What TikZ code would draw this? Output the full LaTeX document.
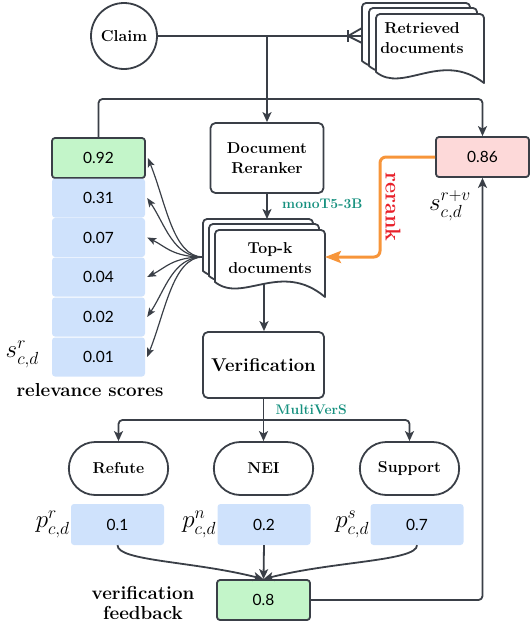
\RequirePackage{fix-cm}
\documentclass[tikz,border=0pt]{standalone}
\usepackage{amsmath}
\usepackage{fontspec}
\usepackage{tikz}
\usetikzlibrary{calc,arrows.meta,shapes.misc,positioning}
\newfontfamily\numfont{Lato}
\definecolor{ink}{HTML}{3A3F47}
\definecolor{scoreblue}{HTML}{CFE2FC}
\definecolor{topgreen}{HTML}{C3F5C9}
\definecolor{rrpink}{HTML}{FDD9D9}
\definecolor{rrorange}{HTML}{F7953A}
\definecolor{rrred}{HTML}{E8212B}
\definecolor{modelteal}{HTML}{15907E}
\tikzset{
  base/.style={draw=ink, line width=1.8pt, line join=round},
  arr/.style={base, -{Stealth[length=10pt,width=9pt,inset=2.5pt]}},
  thinarr/.style={draw=ink, line width=1.2pt, -{Stealth[length=9pt,width=7pt,inset=2pt]}},
  rrarr/.style={draw=rrorange, line width=3pt, rounded corners=6pt, -{Stealth[length=16pt,width=12pt,inset=3pt]}},
  sheet/.style={base, fill=white},
  lab/.style={font=\fontsize{15.8}{20.5}\selectfont\bfseries, align=center},
  bigl/.style={font=\fontsize{18.8}{20}\selectfont\bfseries, align=center},
  model/.style={text=modelteal, font=\fontsize{13.9}{15}\selectfont\bfseries},
  num/.style={font=\numfont\fontsize{15.5}{17}\selectfont, minimum width=93pt, minimum height=40pt, inner sep=0pt, rounded corners=3pt},
  score/.style={num, fill=scoreblue, minimum height=39pt},
  picked/.style={num, base, fill=topgreen},
  mlab/.style={font=\fontsize{25}{28}\selectfont, inner sep=1pt},
  outcome/.style={base, rounded rectangle, minimum width=106pt, minimum height=53pt, lab},
  stepbox/.style={base, rounded corners=5pt, inner sep=0pt},
}

\begin{document}
\begin{tikzpicture}[x=1pt, y=-1pt]
  \useasboundingbox (0,0) rectangle (532,624);
  % claim and retrieved documents
  \node[base, circle, minimum size=66pt, inner sep=0pt, lab] (Claim) at (124,36) {Claim};
  \coordinate (RDc) at (362,3);
  \foreach \dx/\dy in {0/0,7/5,14/11}
    \draw[sheet] ($(RDc)+(\dx,\dy)$) ++(0,58) [rounded corners=4pt] |- ++(108,-58) [sharp corners] -- ++(0,69)
      .. controls +(-43,-33) and +(27,22) .. ++(-108,-11) -- cycle;
  \node[lab] (RD) at (422,38) {Retrieved\\documents};
  \coordinate (RDw) at ($(RDc)+(0,33)$);
  \draw[base] (Claim) -- (RDw);
  \draw[base] ($(RDw)+(-14,-6)$) -- ($(RDw)+(-14,6)$);
  \draw[base] ($(RDw)+(0,-8)$) -- ($(RDw)+(-14,0)$) -- ($(RDw)+(0,7)$);

  % reranker and top-k documents
  \node[stepbox, lab, minimum width=113pt, minimum height=70pt] (Rerank) at (267,158) {Document\\Reranker};
  \coordinate (TKc) at (203,219);
  \foreach \dx/\dy in {0/0,6/5,12/11}
    \draw[sheet] ($(TKc)+(\dx,\dy)$) ++(0,52) [rounded corners=4pt] |- ++(110,-52) [sharp corners] -- ++(0,67)
      .. controls +(-44,-37) and +(27.5,22) .. ++(-110,-15) -- cycle;
  \node[lab] (TK) at (270,258) {Top-k\\documents};
  \coordinate (TKw) at ($(TKc)+(0,38)$);
  \coordinate (TKe) at ($(TKc)+(122,38)$);
  \coordinate (TKs) at ($(TKc)+(61,65)$);
  \coordinate (Bus) at (267,99);
  \draw[arr] (Rerank.north |- Claim.east) -- (Rerank.north);
  \draw[arr] (Rerank.south) -- (Rerank.south |- TKc)
    node[model, pos=0.4, anchor=west, xshift=11pt] {monoT5-3B};

  % relevance scores
  \node[picked] (S1) at (98.5,158) {0.92};
  \foreach \v/\y [count=\i from 2] in {0.31/198,0.07/237.5,0.04/277,0.02/317,0.01/357}
    \node[score] (S\i) at (98.5,\y) {\v};
  \foreach \i/\y in {1/158,2/198,3/237.5,4/277,5/317,6/357} {
    \pgfmathsetmacro{\bend}{(257-\y)*0.45}
    \draw[thinarr] (TKw) .. controls +(-30,0) and +(18,\bend) .. ($(S\i.east)+(2,0)$);
  }
  \node[mlab, anchor=east] (SRlab) at (40,354) {$s^{r}_{c,d}$};
  \node[bigl] (RSlab) at (90,390) {relevance scores};

  % combined score
  \node[picked, fill=rrpink] (SRV) at (482.5,157) {0.86};
  \node[mlab] (SRVlab) at (450,206) {$s^{r+v}_{c,d}$};
  \draw[arr, rounded corners=4pt] (S1.north) |- (Bus) -| (SRV.north);
  \coordinate (RRk) at (380,257);
  \draw[rrarr] (SRV.west) -| (RRk) -- (TKe);
  \node[text=rrred, font=\fontsize{21.5}{24}\selectfont\bfseries, rotate=-90] (RRlab) at (393,207) {rerank};

  % verification
  \node[stepbox, minimum width=121pt, minimum height=66pt, font=\fontsize{18.5}{20}\selectfont\bfseries] (Verif) at (263.5,365) {Verification};
  \draw[arr] (TKs) -- (TKs |- Verif.north);
  \coordinate (Split) at (263.5,420);
  \draw[base] (Verif.south) -- (Split)
    node[model, pos=0.5, anchor=west, xshift=8pt] {MultiVerS};
  \node[outcome] (Refute) at (118.5,468.5) {Refute};
  \node[outcome] (NEI) at (263.5,468.5) {NEI};
  \node[outcome] (Support) at (409.5,468.5) {Support};
  \draw[arr, rounded corners=4pt] (Split) -| (Refute.north);
  \draw[arr] (Split) -- (NEI.north);
  \draw[arr, rounded corners=4pt] (Split) -| (Support.north);

  % label probabilities
  \node[score, minimum height=41pt, label={[mlab]left:$p^{r}_{c,d}$}] (P1) at (117.5,524.5) {0.1};
  \node[score, minimum height=41pt, label={[mlab]left:$p^{n}_{c,d}$}] (P2) at (264,524.5) {0.2};
  \node[score, minimum height=41pt, label={[mlab]left:$p^{s}_{c,d}$}] (P3) at (417,524.5) {0.7};
  \node[picked] (Fb) at (263.5,600) {0.8};
  \node[bigl] (FBlab) at (143,603) {verification\\feedback};
  \draw[arr] (P1.south) .. controls +(0,16) and +(-70,-18) .. (Fb.north);
  \draw[arr] (P2.south) -- (Fb.north);
  \draw[arr] (P3.south) .. controls +(0,16) and +(70,-18) .. (Fb.north);
  \draw[arr, rounded corners=4pt] (Fb.east) -| (SRV.south);
\end{tikzpicture}
\end{document}
